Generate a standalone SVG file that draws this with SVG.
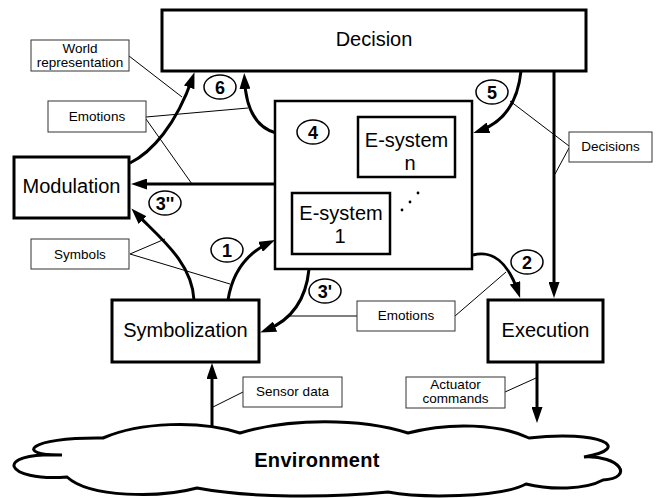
<svg xmlns="http://www.w3.org/2000/svg" width="656" height="498" viewBox="0 0 656 498">
<style>
  .box{fill:#fff;stroke:#000;stroke-width:3}
  .cont{fill:#fff;stroke:#000;stroke-width:2.5}
  .lbl{fill:#fff;stroke:#333;stroke-width:1}
  .main{font-family:"Liberation Sans",Arial,sans-serif;font-size:20px;fill:#000;text-anchor:middle}
  .small{font-family:"Liberation Sans",Arial,sans-serif;font-size:13.5px;fill:#000;text-anchor:middle}
  .num{font-family:"Liberation Sans",Arial,sans-serif;font-size:18px;font-weight:bold;fill:#000;text-anchor:middle}
  .circ{fill:#fff;stroke:#000;stroke-width:1.5}
  .arr{fill:none;stroke:#000;stroke-width:3;marker-end:url(#ah)}
  .lead{fill:none;stroke:#000;stroke-width:1}
</style>
<defs>
  <marker id="ah" viewBox="0 0 16 11" markerWidth="16" markerHeight="11" refX="10" refY="5.5" markerUnits="userSpaceOnUse" orient="auto">
    <path d="M0,0 L16,5.5 L0,11 z" fill="#000"/>
  </marker>
</defs>
<rect width="656" height="498" fill="#fff"/>

<g id="environment">
  <path d="M103,438 C140,422 200,420 240,433 C290,418 360,418 408,433 C450,422 500,424 529,438 C600,430 635,448 584,457 C620,455 635,478 603,480 C585,490 550,490 526,484 C500,498 420,498 388,492 C330,498 250,498 197,488 C160,498 90,498 67,477 C5,482 -10,452 62,455 C15,456 25,437 103,438 Z" fill="#fff" stroke="#000" stroke-width="3" stroke-linejoin="miter"/>
  <text x="317" y="467" class="main" font-weight="bold" letter-spacing="0.3">Environment</text>
</g>

<g id="leaders">
  <line class="lead" x1="129" y1="56" x2="182" y2="97"/>
  <line class="lead" x1="146" y1="117" x2="248" y2="108"/>
  <line class="lead" x1="146" y1="119" x2="192" y2="184"/>
  <line class="lead" x1="130" y1="254" x2="165" y2="239"/>
  <line class="lead" x1="130" y1="254" x2="230" y2="284"/>
  <line class="lead" x1="357" y1="316" x2="289" y2="316"/>
  <line class="lead" x1="455" y1="316" x2="506" y2="272"/>
  <line class="lead" x1="569" y1="146" x2="510" y2="101"/>
  <line class="lead" x1="569" y1="148" x2="555" y2="174"/>
  <line class="lead" x1="243" y1="392" x2="213" y2="407"/>
  <line class="lead" x1="505" y1="392" x2="536" y2="378"/>
</g>

<g id="connectors">
  <path class="arr" d="M130,163 C152,152 176,125 192.5,78"/>
  <path class="arr" d="M276,133 C258,128 246,112 244.5,79"/>
  <path class="arr" d="M521,71 C518,100 505,122 479,131"/>
  <path class="arr" d="M554,71 L554,292"/>
  <path class="arr" d="M275,184 L137,184"/>
  <path class="arr" d="M194,300 C192,262 160,238 135.6,212.9"/>
  <path class="arr" d="M228,300 C232,275 245,254 269.6,242.6"/>
  <path class="arr" d="M309,269 C306,300 292,320 265.8,330.3"/>
  <path class="arr" d="M473,255 C492,250 508,262 518.2,292.3"/>
  <path class="arr" d="M212,427 L212,369"/>
  <path class="arr" d="M537,362 L537,417"/>
</g>

<g id="decision">
  <rect class="box" x="162" y="10" width="424" height="61"/>
  <text x="374" y="46" class="main">Decision</text>
</g>

<g id="modulation">
  <rect class="box" x="14" y="157" width="115" height="61"/>
  <text x="71.5" y="193" class="main">Modulation</text>
</g>

<g id="esystems">
  <rect class="cont" x="275" y="101" width="197" height="168"/>
  <circle cx="402" cy="210" r="1.4" fill="#000"/>
  <circle cx="410" cy="202" r="1.4" fill="#000"/>
  <circle cx="418" cy="193" r="1.4" fill="#000"/>
</g>

<g id="esystem-n">
  <rect class="cont" x="358" y="117" width="97" height="60"/>
  <text x="406.5" y="147" class="main">E-system</text>
  <text x="410" y="170" class="main">n</text>
</g>

<g id="esystem-1">
  <rect class="cont" x="292" y="193" width="98" height="61"/>
  <text x="341" y="220" class="main">E-system</text>
  <text x="340" y="243" class="main">1</text>
</g>

<g id="symbolization">
  <rect class="box" x="112" y="300" width="147" height="62"/>
  <text x="185.5" y="337" class="main">Symbolization</text>
</g>

<g id="execution">
  <rect class="box" x="488" y="300" width="115" height="62"/>
  <text x="545.5" y="337" class="main">Execution</text>
</g>

<g id="label-world">
  <rect class="lbl" x="31" y="40" width="98" height="31"/>
  <text x="80" y="53" class="small">World</text>
  <text x="80" y="67" class="small">representation</text>
</g>
<g id="label-emotions-top">
  <rect class="lbl" x="48" y="101" width="98" height="31"/>
  <text x="97" y="121" class="small">Emotions</text>
</g>
<g id="label-symbols">
  <rect class="lbl" x="31" y="239" width="98" height="30"/>
  <text x="80" y="259" class="small">Symbols</text>
</g>
<g id="label-emotions-bottom">
  <rect class="lbl" x="357" y="301" width="98" height="30"/>
  <text x="406" y="320" class="small">Emotions</text>
</g>
<g id="label-decisions">
  <rect class="lbl" x="569" y="132" width="83" height="30"/>
  <text x="610.5" y="151" class="small">Decisions</text>
</g>
<g id="label-sensor">
  <rect class="lbl" x="243" y="377" width="99" height="30"/>
  <text x="292.5" y="396" class="small">Sensor data</text>
</g>
<g id="label-actuator">
  <rect class="lbl" x="406" y="377" width="99" height="31"/>
  <text x="455.5" y="389" class="small">Actuator</text>
  <text x="455.5" y="403" class="small">commands</text>
</g>

<g id="step-6"><ellipse class="circ" cx="220" cy="87" rx="16" ry="12"/><text x="220" y="93.5" class="num">6</text></g>
<g id="step-4"><ellipse class="circ" cx="313" cy="132" rx="16" ry="12"/><text x="313" y="138.5" class="num">4</text></g>
<g id="step-5"><ellipse class="circ" cx="492" cy="92" rx="16" ry="12"/><text x="492" y="98.5" class="num">5</text></g>
<g id="step-3pp"><ellipse class="circ" cx="165" cy="203" rx="16" ry="12"/><text x="165" y="209.5" class="num">3''</text></g>
<g id="step-1"><ellipse class="circ" cx="227" cy="250" rx="16" ry="12"/><text x="227" y="256.5" class="num">1</text></g>
<g id="step-3p"><ellipse class="circ" cx="325" cy="291" rx="16" ry="12"/><text x="325" y="297.5" class="num">3'</text></g>
<g id="step-2"><ellipse class="circ" cx="527" cy="262" rx="16" ry="12"/><text x="527" y="268.5" class="num">2</text></g>
</svg>
